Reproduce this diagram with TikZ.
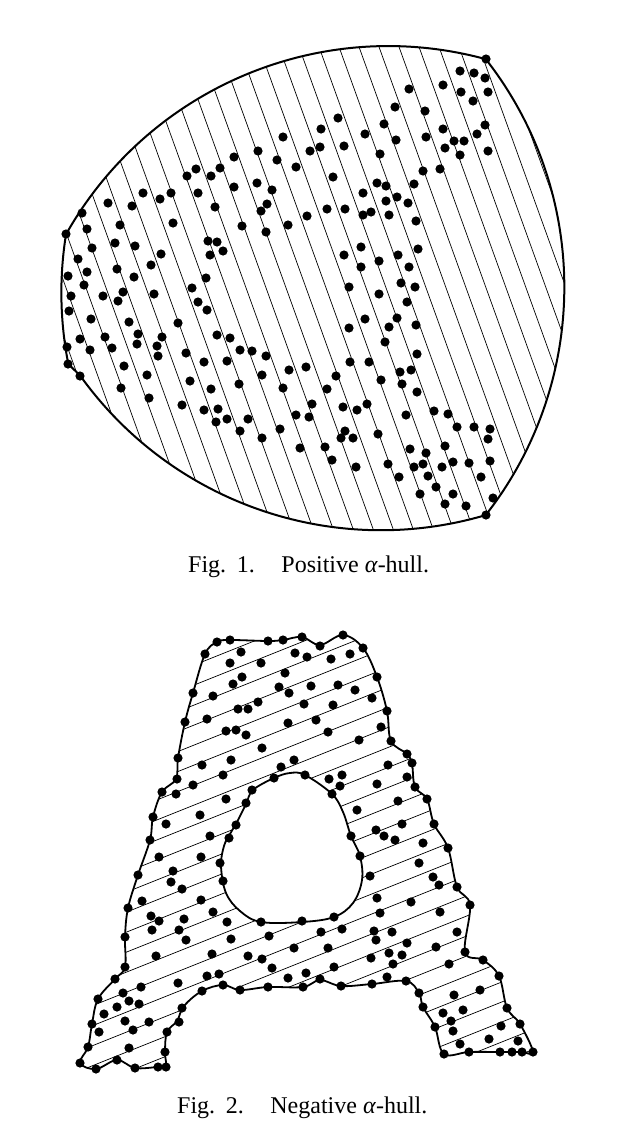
\documentclass[tikz,border=0pt]{standalone}
\usepackage{fontspec}
\setmainfont{Liberation Serif}
% outlines of the two hulls (page pixels, y downwards)
\newcommand{\TopHull}{(485.7,59)
  arc[start angle=-38.05,end angle=38.05,radius=370]
  arc[start angle=73.56,end angle=144.37,radius=370] -- (68.3,364)
  arc[start angle=168.89,end angle=189.08,radius=370]
  arc[start angle=209.42,end angle=285.25,radius=370] -- cycle}
\newcommand{\OuterA}{plot[smooth cycle,tension=0.6] coordinates {
  (217,642) (230,640) (268,641) (283,640) (302,637) (320,645) (343,635)
  (363,648) (377,677) (387,711) (391,741) (407,754) (412,764) (415,787)
  (427,799) (434,824) (448,848) (457,887) (470,905) (465,952) (483,960)
  (499,976) (507,1008) (520,1024) (533,1052) (522,1052) (512,1052)
  (500,1052) (469,1052) (444,1054) (435,1027) (423,1007) (419,993)
  (406,981) (372,984) (341,986) (320,980) (303,987) (268,987) (240,990)
  (223,985) (202,991) (184,1006) (177,1021) (167,1032) (165,1052)
  (166,1067) (158,1067) (135,1068) (117,1060) (96,1069) (80,1063)
  (88,1047) (92,1024) (98,999) (115,979) (125,967) (125,937) (128,908)
  (138,875) (150,840) (153,817) (162,792) (176,779) (178,758) (185,722)
  (193,693) (205,654)}}
\newcommand{\HoleA}{plot[smooth cycle,tension=0.6] coordinates {
  (290,773) (305,775) (332,794) (343,812) (351,836) (360,856) (362,880)
  (353,903) (334,917) (302,922) (261,922) (240,911) (226,893) (221,866)
  (224,846) (230,834) (237,822) (246,804) (253,790) (274,778)}}

\begin{document}
\begin{tikzpicture}[
  x=1pt,y=-1pt,
  hull/.style={line width=2pt,line join=round},
  hatch/.style={line width=0.7pt},
  caption/.style={font=\fontsize{24}{28}\selectfont,anchor=base west,inner sep=0pt}
]
  \useasboundingbox (0,0) rectangle (626,1146);

  % Fig. 1
  \begin{scope}
    \clip \TopHull;
    \foreach \k in {-7,...,30}
      \draw[hatch] ({-10.7+20*\k},20) -- ({184.3+20*\k},560);
  \end{scope}
  \draw[hull] \TopHull;
  \foreach \p in {
    (283,137),(258,151),(310,151),(234,157),(277,160),(296,167),(196,169),
    (220,168),(187,176),(211,176),(234,187),(257,183),(272,190),(143,193),
    (171,193),(160,199),(198,193),(108,203),(132,206),(215,207),(267,204),
    (261,211),(307,216),(82,213),(173,223),(120,225),(242,226),(288,225),
    (87,229),(266,232),(66,234),(208,241),(217,242),(115,243),(135,246),
    (92,248),(223,251),(210,255),(161,254),(78,259),(87,272),(117,269),
    (151,265),(68,276),(134,277),(206,278),(84,285),(192,288)}
    \fill \p circle (4.6);
  \foreach \p in {
    (486,59),(460,71),(474,73),(485,78),(443,85),(461,92),(488,92),(473,101),
    (409,89),(395,107),(425,111),(338,118),(321,129),(384,124),(443,129),
    (485,125),(365,134),(426,137),(396,140),(454,141),(464,141),(477,134),
    (320,147),(344,146),(445,148),(460,155),(488,151),(380,154),(423,171),
    (440,169),(333,177),(377,183),(386,186),(414,184),(363,193),(386,201),
    (397,197),(408,203),(327,209),(345,209),(363,215),(371,212),(389,215),
    (416,221),(361,247),(418,249),(344,255),(379,261),(398,255),(361,267),
    (409,267),(349,287),(401,283),(415,287)}
    \fill \p circle (4.6);
  \foreach \p in {
    (71,296),(103,296),(118,301),(123,292),(154,294),(198,302),(207,310),
    (69,311),(91,319),(129,322),(178,323),(80,339),(105,337),(138,334),
    (162,337),(217,335),(230,338),(67,347),(90,350),(112,348),(137,344),
    (157,346),(158,356),(186,353),(240,350),(252,351),(266,356),(68,364),
    (124,366),(204,362),(227,361),(289,370),(306,367),(80,376),(147,375),
    (262,375),(190,381),(239,384),(121,388),(211,389),(283,388),(149,398),
    (182,405),(204,410),(218,409),(312,404),(216,422),(227,419),(248,419),
    (296,415),(309,417),(240,431),(262,438),(280,429),(300,448)}
    \fill \p circle (4.6);
  \foreach \p in {
    (379,294),(407,302),(365,319),(397,318),(349,328),(389,327),(416,325),
    (385,342),(417,354),(350,362),(369,362),(400,372),(411,370),(336,376),
    (381,380),(402,384),(327,389),(417,392),(343,407),(357,410),(367,404),
    (406,415),(434,411),(448,414),(457,427),(474,427),(490,429),(488,439),
    (345,431),(341,438),(353,438),(378,434),(325,447),(445,446),(410,449),
    (426,453),(332,460),(356,467),(388,464),(414,467),(423,464),(442,467),
    (453,462),(469,463),(490,461),(399,477),(428,476),(481,477),(436,487),
    (420,494),(453,494),(445,504),(466,506),(493,498),(486,515)}
    \fill \p circle (4.6);
  \node[caption] (cap1) at (188,572)
    {Fig.\hspace{0.45em}1.\hspace{1.1em}Positive \textit{α}-hull.};

  % Fig. 2
  \begin{scope}[even odd rule]
    \clip \OuterA \HoleA;
    \foreach \k in {-11,...,22}
      \draw[hatch] (60,{1058.7-20*\k}) -- (560,{858.7-20*\k});
  \end{scope}
  \draw[hull,line width=1.8pt] \OuterA;
  \draw[hull,line width=1.8pt] \HoleA;
  \foreach \p in {
    (217,642),(230,640),(268,641),(283,640),(302,637),(320,646),(343,635),
    (363,648),(377,677),(387,711),(391,741),(407,754),(412,763),(415,787),
    (427,799),(434,824),(448,848),(457,887),(470,905),(465,952),(483,960),
    (499,976),(507,1008),(520,1024),(533,1052),(522,1052),(512,1052),
    (500,1052),(469,1052),(444,1054),(435,1027),(423,1007),(419,993),
    (406,981),(372,984),(341,986),(320,979),(303,987),(268,987),(240,990),
    (223,985),(202,991),(182,1008),(179,1022),(167,1032),(165,1052),
    (166,1067),(158,1067),(135,1068),(117,1060),(96,1069),(80,1063),
    (88,1047),(92,1024),(98,999),(115,979),(125,967),(125,937),(128,908),
    (138,875),(150,840),(153,817),(162,792),(177,779),(178,758),(185,722),
    (193,693),(205,654)}
    \fill \p circle (4.6);
  \foreach \p in {
    (305,775),(274,778),(252,790),(246,803),(236,825),(229,838),(220,863),
    (223,881),(261,922),(302,921),(334,917),(360,856),(351,836),(332,794)}
    \fill \p circle (4.6);
  \foreach \p in {
    (241,652),(230,663),(261,663),(295,653),(307,657),(285,673),(242,677),
    (233,684),(213,696),(279,687),(289,693),(311,686),(258,702),(238,709),
    (248,709),(304,704),(207,719),(226,731),(236,730),(246,735),(288,723),
    (262,748),(202,765),(231,760),(223,775),(294,760),(281,767),(193,785),
    (176,794),(226,799),(200,815),(166,824),(210,836),
    (331,659),(350,654),(338,685),(355,690),(372,698),(333,705),(316,720),
    (381,727),(328,732),(359,740),(388,765),(342,775),(329,779),(340,786),
    (377,784),(407,777),(398,801),(357,810),(402,824),(376,830),(384,836),
    (395,840),(423,843)}
    \fill \p circle (4.6);
  \foreach \p in {
    (159,857),(201,857),(173,871),(171,882),(182,889),(142,901),(201,900),
    (151,916),(159,921),(184,919),(213,912),(227,922),(152,930),(179,930),
    (186,940),(231,939),(269,936),(294,948),(156,956),(212,954),(248,956),
    (262,959),(272,968),(219,974),(207,976),(178,983),(288,978),(306,973),
    (141,987),(123,993),(129,1001),(117,1007),(139,1004),(104,1014),
    (125,1021),(149,1022),(99,1032),(133,1030),(129,1048),
    (419,863),(370,876),(433,877),(439,885),(377,898),(411,902),(440,912),
    (380,913),(342,929),(321,932),(374,931),(392,932),(457,932),(376,940),
    (407,943),(328,948),(436,947),(389,953),(402,955),(371,958),(393,964),
    (449,964),(334,967),(387,977),(454,995),(480,990),(443,1013),(463,1010),
    (451,1021),(453,1031),(501,1026),(489,1039),(460,1044),(518,1041)}
    \fill \p circle (4.6);
  \node[caption] (cap2) at (177,1113)
    {Fig.\hspace{0.45em}2.\hspace{1.1em}Negative \textit{α}-hull.};
\end{tikzpicture}
\end{document}
